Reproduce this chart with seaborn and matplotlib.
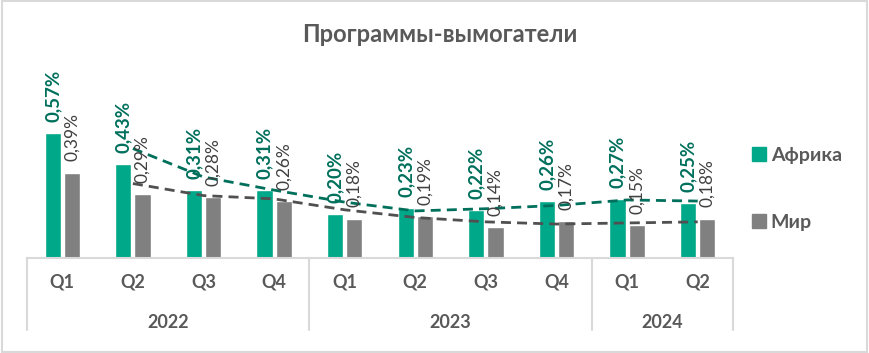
import numpy as np
import pandas as pd
import matplotlib
matplotlib.use("Agg")
import matplotlib.pyplot as plt
from matplotlib.patches import Rectangle
from matplotlib.lines import Line2D
import seaborn as sns

# data
quarters = ["Q1", "Q2", "Q3", "Q4", "Q1", "Q2", "Q3", "Q4", "Q1", "Q2"]
years = ["2022", "2022", "2022", "2022", "2023", "2023", "2023", "2023", "2024", "2024"]
africa = [0.57, 0.43, 0.31, 0.31, 0.20, 0.23, 0.22, 0.26, 0.27, 0.25]
world = [0.39, 0.29, 0.28, 0.26, 0.18, 0.19, 0.14, 0.17, 0.15, 0.18]
series_names = ["Африка", "Мир"]

teal = "#00A88A"
teal_dark = "#00705C"
gray = "#808080"
txt_gray = "#595959"

sns.set_style("white")
plt.rcParams["font.family"] = ["Lato", "DejaVu Sans"]

periods = [f"{y} {q}" for y, q in zip(years, quarters)]
df = pd.DataFrame({
    "period": periods * 2,
    "value": africa + world,
    "series": [series_names[0]] * len(africa) + [series_names[1]] * len(world),
})

fig = plt.figure(figsize=(8.69, 3.53), dpi=100)
ax = fig.add_axes([27 / 869, 95 / 353, 706 / 869, 198 / 353])

sns.barplot(data=df, x="period", y="value", hue="series", order=periods,
            palette=[teal, gray], width=0.54, gap=0.15, legend=False, ax=ax,
            saturation=1)

ax.set_xlim(-0.5, len(periods) - 0.5)
ax.set_ylim(0, 198 / 219)

# data labels
fmt = lambda v: f"{v:.2f}".replace(".", ",") + "%"
ax.bar_label(ax.containers[0], labels=[fmt(v) for v in africa], rotation=90,
             padding=8, fontsize=13.5, fontweight="bold", color=teal_dark)
ax.bar_label(ax.containers[1], labels=[fmt(v) for v in world], rotation=90,
             padding=8, fontsize=12.5, color="#404040")

# 2-period moving average trend lines
x = np.arange(len(periods))
ma_af = pd.Series(africa).rolling(2).mean()
ma_w = pd.Series(world).rolling(2).mean()
ax.plot(x, ma_af, ls=(0, (3.6, 2.2)), color=teal_dark, lw=2)
ax.plot(x, ma_w, ls=(0, (3.6, 2.2)), color="#505050", lw=2)

# axes cosmetics
for s in ["top", "right", "left"]:
    ax.spines[s].set_visible(False)
ax.spines["bottom"].set_color("#d9d9d9")
ax.spines["bottom"].set_linewidth(1.5)
ax.set_yticks([])
ax.set_ylabel("")
ax.set_xlabel("")
ax.set_xticks(x)
ax.set_xticklabels(quarters, fontsize=13, fontweight="bold", color=txt_gray)
ax.tick_params(axis="x", length=0, pad=11)

# year groups and separators
trans = ax.get_xaxis_transform()
bounds = [-0.5]
for i in range(1, len(years)):
    if years[i] != years[i - 1]:
        bounds.append(i - 0.5)
bounds.append(len(years) - 0.5)
for b in bounds:
    ax.add_line(Line2D([b, b], [0, -72 / 198], transform=trans, color="#d9d9d9",
                       lw=1.5, clip_on=False))
for b0, b1 in zip(bounds[:-1], bounds[1:]):
    yr = years[int(b0 + 0.5)]
    ax.text((b0 + b1) / 2, -64 / 198, yr, transform=trans, ha="center", va="center",
            fontsize=13, fontweight="bold", color=txt_gray)

# title
fig.text(0.506, 1 - 35 / 353, "Программы-вымогатели", ha="center", va="center",
         fontsize=17, fontweight="bold", color=txt_gray)

# legend
handles = [Line2D([], [], marker="s", ls="", color=c, markersize=10) for c in [teal, gray]]
fig.legend(handles, series_names, loc="center left", bbox_to_anchor=(0.84, 0.465),
           frameon=False, labelspacing=2.6, handletextpad=0.0, handlelength=1.2,
           prop={"size": 14, "weight": "bold"}, labelcolor=txt_gray)

# outer frame
fig.patches.append(Rectangle((0.002, 0.003), 0.996, 0.994, transform=fig.transFigure,
                             fill=False, edgecolor="#d9d9d9", lw=1.5))

fig.savefig("out.png", dpi=100)
